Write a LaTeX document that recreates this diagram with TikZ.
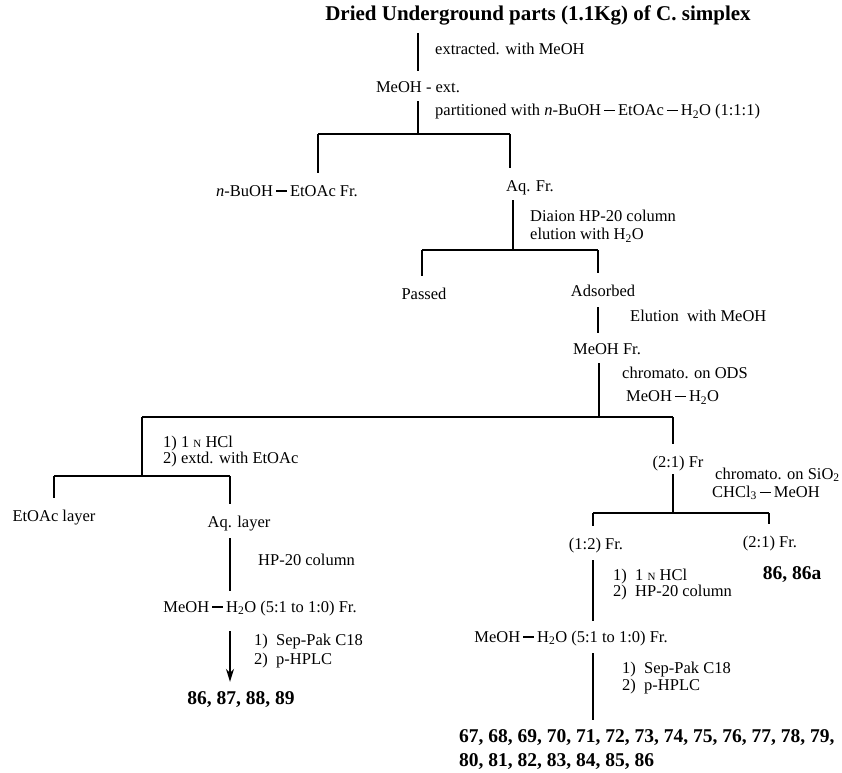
\documentclass[tikz,border=0pt]{standalone}
\usepackage{fontspec}
\usetikzlibrary{arrows.meta}
\setmainfont{Liberation Serif}
\newcommand{\fsbody}{\fontsize{16.5}{17}\selectfont}
\newcommand{\fstitle}{\fontsize{21}{24}\selectfont\bfseries}
\newcommand{\fscmpd}{\fontsize{19.5}{24}\selectfont\bfseries}
\newcommand{\nsc}{{\fontsize{11}{11}\selectfont N}}
\newcommand{\dsh}{\kern3pt\rule[4.5pt]{11pt}{1.1pt}\kern3pt}
\begin{document}
\begin{tikzpicture}[x=1pt,y=-1pt,
    frac/.style={font=\fsbody,inner sep=4pt,text height=11pt,text depth=3pt},
    cond/.style={font=\fsbody,align=left,anchor=west,inner sep=0pt},
    cmpd/.style={font=\fscmpd,inner sep=4pt},
    flow/.style={line width=1.4pt},
    link/.style={flow,shorten <=4pt,shorten >=6pt},
    drop/.style={flow,shorten >=8pt}]

    \useasboundingbox (0,0) rectangle (842,772);

    % fractions
    \node[font=\fstitle,inner sep=4pt] (src) at (538,15) {Dried Underground parts (1.1Kg) of C. simplex};
    \node[frac] (ext) at (418,88) {MeOH - ext.};
    \node[frac] (buoh) at (287,192) {\textit{n}-BuOH\dsh EtOAc Fr.};
    \node[frac] (aqfr) at (530,187) {Aq. Fr.};
    \node[frac] (passed) at (424,295) {Passed};
    \node[frac] (adsorbed) at (603,292) {Adsorbed};
    \node[frac] (meohfr) at (607,350) {MeOH Fr.};
    \node[frac] (fr21) at (678,463) {(2:1) Fr};
    \node[frac] (etoac) at (54,517) {EtOAc layer};
    \node[frac] (aqlayer) at (239,523) {Aq. layer};
    \node[frac] (mixA) at (260,608) {MeOH\dsh H\textsubscript{2}O (5:1 to 1:0) Fr.};
    \node[frac] (fr12) at (596,545) {(1:2) Fr.};
    \node[frac] (fr21b) at (770,543) {(2:1) Fr.};
    \node[frac] (mixB) at (571,638) {MeOH\dsh H\textsubscript{2}O (5:1 to 1:0) Fr.};

    % compounds
    \node[cmpd] (cmpdA) at (241,700) {86, 87, 88, 89};
    \node[cmpd] (cmpdB) at (792,575) {86, 86a};
    \node[cmpd,align=left,anchor=west] (cmpdC) at (455,750) {67, 68, 69, 70, 71, 72, 73, 74, 75, 76, 77, 78, 79,\\80, 81, 82, 83, 84, 85, 86};

    % conditions
    \node[cond] (c1) at (435,49) {extracted. with MeOH};
    \node[cond] (c2) at (435,112) {partitioned with \textit{n}-BuOH\dsh EtOAc\dsh H\textsubscript{2}O (1:1:1)};
    \node[cond] (c3) at (530,226) {Diaion HP-20 column\\[1pt]elution with H\textsubscript{2}O};
    \node[cond] (c4) at (630,316) {Elution\ \ with MeOH};
    \node[cond] (c5) at (622,386) {chromato. on ODS\\[6pt]\hspace*{4pt}MeOH\dsh H\textsubscript{2}O};
    \node[cond] (c6) at (163,452) {1) 1 \nsc\ HCl\\[-1pt]2) extd. with EtOAc};
    \node[cond] (c7) at (715,484) {chromato. on SiO\textsubscript{2}\\[1pt]\hspace*{-3pt}CHCl\textsubscript{3}\dsh MeOH};
    \node[cond] (c8) at (258,560) {HP-20 column};
    \node[cond] (c9) at (254,651) {1)\ \ Sep-Pak C18\\[2pt]2)\ \ p-HPLC};
    \node[cond] (c10) at (613,585) {1)\ \ 1 \nsc\ HCl\\[-1pt]2)\ \ HP-20 column};
    \node[cond] (c11) at (622,678) {1)\ \ Sep-Pak C18\\2)\ \ p-HPLC};

    % branch points
    \coordinate (b1) at (418,134); \coordinate (b1l) at (318,134); \coordinate (b1r) at (510,134);
    \coordinate (b2) at (513,250); \coordinate (b2l) at (422,250); \coordinate (b2r) at (598,250);
    \coordinate (b3) at (599,417); \coordinate (b3l) at (142,417); \coordinate (b3r) at (673,417);
    \coordinate (b4) at (142,476); \coordinate (b4l) at (54,476);  \coordinate (b4r) at (230,476);
    \coordinate (b5) at (673,513); \coordinate (b5l) at (593,513); \coordinate (b5r) at (769,513);

    % bars
    \draw[flow] (b1l) -- (b1r);
    \draw[flow] (b2l) -- (b2r);
    \draw[flow] (b3l) -- (b3r);
    \draw[flow] (b4l) -- (b4r);
    \draw[flow] (b5l) -- (b5r);
    \foreach \b/\n in {b1l/buoh,b1r/aqfr,b2l/passed,b2r/adsorbed,b3r/fr21,b4l/etoac,b4r/aqlayer,b5l/fr12,b5r/fr21b}
        \draw[drop] (\b) -- (\b |- \n.north);

    % stems
    \draw[link] (src.south -| ext) -- (ext.north);
    \draw[flow,shorten <=2pt] (ext.south) -- (b1);
    \draw[flow,shorten <=2pt] (aqfr.south -| b2) -- (b2);
    \draw[link] (adsorbed.south -| b2r) -- (meohfr.north -| b2r);
    \draw[flow,shorten <=2pt] (meohfr.south -| b3) -- (b3);
    \draw[flow] (b3l) -- (b4);
    \draw[link] (aqlayer.south -| b4r) -- (mixA.north -| b4r);
    \draw[link,shorten <=12pt,-{Stealth[length=13pt,width=8pt]}] (mixA.south -| b4r) -- (cmpdA.north -| b4r);
    \draw[flow] (fr21.south -| b5) -- (b5);
    \draw[link] (fr12.south -| b5l) -- (mixB.north -| b5l);
    \draw[link] (mixB.south -| b5l) -- (cmpdC.north -| b5l);

\end{tikzpicture}
\end{document}
